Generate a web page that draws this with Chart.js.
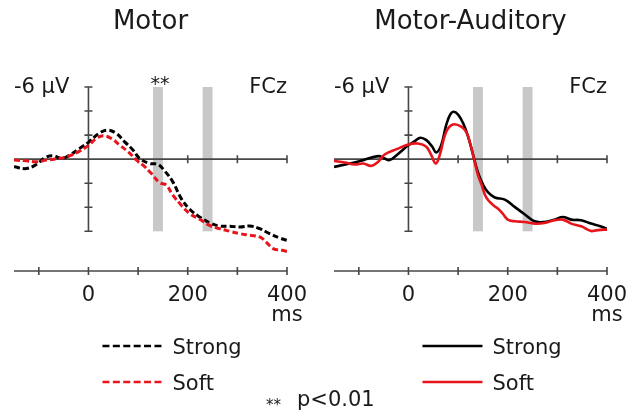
<!DOCTYPE html>
<html>
<head>
<meta charset="utf-8">
<script src="https://cdn.jsdelivr.net/npm/chart.js@4.4.1/dist/chart.umd.min.js"></script>
<style>
  body { margin: 0; background: #fff; }
  #wrap { position: relative; width: 630px; height: 414px; }
  canvas { position: absolute; left: 0; top: 0; }
</style>
</head>
<body>
<div id="wrap">
  <canvas id="motorChart" width="630" height="414"></canvas>
  <canvas id="audChart" width="630" height="414"></canvas>
</div>
<script>
// Motor, FCz (ms / µV, negative up)
const motorStrongTime = [-150, -125, -105, -88, -71, -54, -38, -18, 0, 20, 38, 56, 73, 90, 103, 123, 140, 154, 170, 187, 204, 224, 244, 264, 285, 305, 325, 345, 365, 385, 400];
const motorStrong = [0.64, 0.78, 0.44, -0.11, -0.28, -0.06, -0.33, -0.89, -1.4, -2.1, -2.42, -2.14, -1.44, -0.75, -0.06, 0.36, 0.44, 1.0, 1.89, 3.28, 4.17, 4.81, 5.28, 5.56, 5.58, 5.64, 5.56, 5.78, 6.19, 6.55, 6.75];
const motorSoftTime = [-150, -125, -105, -85, -58, -38, -18, 0, 16, 30, 46, 63, 80, 97, 110, 127, 143, 157, 170, 187, 204, 224, 244, 264, 285, 305, 325, 345, 358, 372, 390, 400];
const motorSoft = [0.08, 0.14, 0.22, 0.08, -0.06, -0.28, -0.67, -1.15, -1.72, -1.94, -1.72, -1.17, -0.61, 0.08, 0.5, 1.2, 1.94, 2.17, 3.0, 3.83, 4.53, 5.0, 5.5, 5.78, 6.0, 6.19, 6.33, 6.47, 6.89, 7.44, 7.58, 7.67];

// Motor-Auditory, FCz
const audStrongTime = [-150, -118, -91, -61, -48, -38, -24, 0, 13, 24, 36, 48, 56, 66, 76, 84, 91, 100, 110, 120, 130, 140, 150, 160, 174, 194, 214, 234, 254, 274, 294, 311, 328, 348, 368, 385, 400];
const audStrong = [0.64, 0.36, 0.08, -0.25, -0.05, 0.08, -0.33, -1.17, -1.5, -1.78, -1.58, -1.03, -0.56, -1.17, -2.83, -3.7, -3.94, -3.7, -3.0, -1.9, -0.4, 1.1, 2.1, 2.75, 3.19, 3.36, 3.97, 4.58, 5.17, 5.22, 5.03, 4.81, 5.03, 5.08, 5.36, 5.55, 5.8];
const audSoftTime = [-150, -128, -108, -91, -75, -61, -48, -24, 0, 19, 36, 46, 55, 63, 76, 90, 107, 117, 125, 132, 140, 147, 157, 170, 180, 190, 200, 214, 234, 254, 274, 294, 311, 328, 348, 368, 378, 395, 400];
const audSoft = [0.14, 0.28, 0.44, 0.36, 0.56, 0.22, -0.39, -0.83, -1.22, -1.3, -1.03, -0.33, 0.36, -0.33, -2.28, -2.89, -2.69, -2.22, -1.2, 0.0, 1.3, 2.1, 3.2, 3.8, 4.11, 4.53, 5.03, 5.17, 5.22, 5.36, 5.31, 5.08, 5.03, 5.36, 5.58, 5.97, 5.92, 5.86, 5.86];

const xTicks = [-100, 0, 100, 200, 300, 400];
const zeroLineTicks = [100, 200, 300, 400];
const xLabels = [0, 200, 400];
const yTicks = [-6, -4, -2, 0, 2, 4, 6];
const sigWindows = [[130, 150], [230, 250]];

const FONT = '"DejaVu Sans", Verdana, sans-serif';
const RED = '#e8141c';

function pts(t, v) {
  return t.map((tt, i) => ({ x: tt, y: v[i] }));
}

// axes, grey windows and all labels drawn through the chart's own scales
const erpPlugin = {
  id: 'erp',
  beforeDatasetsDraw(chart, args, o) {
    const ctx = chart.ctx, x = chart.scales.x, y = chart.scales.y;
    const px = v => x.getPixelForValue(v), py = v => y.getPixelForValue(v);
    ctx.save();
    ctx.fillStyle = '#c8c8c8';
    sigWindows.forEach(w => {
      ctx.fillRect(px(w[0]), py(-6), px(w[1]) - px(w[0]), py(6) - py(-6));
    });
    ctx.strokeStyle = '#474747';
    ctx.lineWidth = 1.6;
    ctx.beginPath();
    // zero line
    ctx.moveTo(px(-150), py(0)); ctx.lineTo(px(400), py(0));
    zeroLineTicks.forEach(t => { ctx.moveTo(px(t), py(0) - 4); ctx.lineTo(px(t), py(0) + 4); });
    // vertical axis
    ctx.moveTo(px(0), py(-6)); ctx.lineTo(px(0), py(6));
    yTicks.forEach(v => { ctx.moveTo(px(0) - 4, py(v)); ctx.lineTo(px(0) + 4, py(v)); });
    // bottom time axis
    const yb = chart.chartArea.bottom;
    ctx.moveTo(px(-150), yb); ctx.lineTo(px(400), yb);
    xTicks.forEach(t => { ctx.moveTo(px(t), yb - 4); ctx.lineTo(px(t), yb + 4); });
    ctx.stroke();
    ctx.restore();
  },
  afterDraw(chart, args, o) {
    const ctx = chart.ctx, x = chart.scales.x, y = chart.scales.y;
    const px = v => x.getPixelForValue(v), py = v => y.getPixelForValue(v);
    const yb = chart.chartArea.bottom;
    ctx.save();
    ctx.fillStyle = '#1a1a1a';
    ctx.textBaseline = 'alphabetic';
    ctx.font = '26px ' + FONT;
    ctx.textAlign = 'center';
    ctx.fillText(o.title, (px(-150) + px(400)) / 2, 29);
    ctx.font = '21px ' + FONT;
    xLabels.forEach(t => ctx.fillText(String(t), px(t), yb + 30));
    ctx.fillText('ms', px(400), yb + 50);
    ctx.textAlign = 'left';
    ctx.fillText('-6 µV', px(-150), py(-6) + 6);
    ctx.textAlign = 'right';
    ctx.fillText('FCz', px(400), py(-6) + 6);
    if (o.stars) {
      ctx.textAlign = 'center';
      ctx.font = '19px ' + FONT;
      ctx.fillText('**', px(140) + 2, py(-6) + 3);
    }
    // legend
    const lx = px(0) + 14;
    ctx.lineWidth = 2.6;
    [['Strong', '#000', 346, 354], ['Soft', RED, 382, 390]].forEach(r => {
      ctx.strokeStyle = r[1];
      ctx.setLineDash(o.dashed ? [7, 3.4] : []);
      ctx.beginPath();
      ctx.moveTo(lx, r[2]); ctx.lineTo(lx + 60, r[2]);
      ctx.stroke();
      ctx.setLineDash([]);
      ctx.textAlign = 'left';
      ctx.font = '21px ' + FONT;
      ctx.fillText(r[0], lx + 70, r[3]);
    });
    if (o.note) {
      ctx.font = '15px ' + FONT;
      ctx.fillText('**', 266, 410);
      ctx.font = '21px ' + FONT;
      ctx.fillText('p<0.01', 297, 406);
    }
    ctx.restore();
  }
};

function makePanel(id, strongT, strongV, softT, softV, opts) {
  const dash = opts.dashed ? [6, 3] : [];
  return new Chart(document.getElementById(id), {
    type: 'line',
    data: {
      datasets: [{
        label: 'Soft',
        data: pts(softT, softV),
        borderColor: RED,
        borderWidth: opts.dashed ? 3 : 2.6,
        borderDash: dash,
        pointRadius: 0,
        tension: 0.4,
        fill: false
      }, {
        label: 'Strong',
        data: pts(strongT, strongV),
        borderColor: '#000',
        borderWidth: opts.dashed ? 3 : 2.6,
        borderDash: dash,
        pointRadius: 0,
        tension: 0.4,
        fill: false
      }]
    },
    options: {
      responsive: false,
      animation: false,
      events: [],
      layout: { padding: opts.padding },
      scales: {
        x: { type: 'linear', min: -150, max: 400, display: false },
        y: { type: 'linear', min: -6, max: 9.3, reverse: true, display: false }
      },
      plugins: {
        legend: { display: false },
        tooltip: { enabled: false },
        erp: opts
      }
    },
    plugins: [erpPlugin]
  });
}

makePanel('motorChart', motorStrongTime, motorStrong, motorSoftTime, motorSoft, {
  title: 'Motor', dashed: true, stars: true, note: true,
  padding: { left: 14, right: 343, top: 87, bottom: 143 }
});
makePanel('audChart', audStrongTime, audStrong, audSoftTime, audSoft, {
  title: 'Motor-Auditory', dashed: false, stars: false, note: false,
  padding: { left: 334, right: 23, top: 87, bottom: 143 }
});
</script>
</body>
</html>
